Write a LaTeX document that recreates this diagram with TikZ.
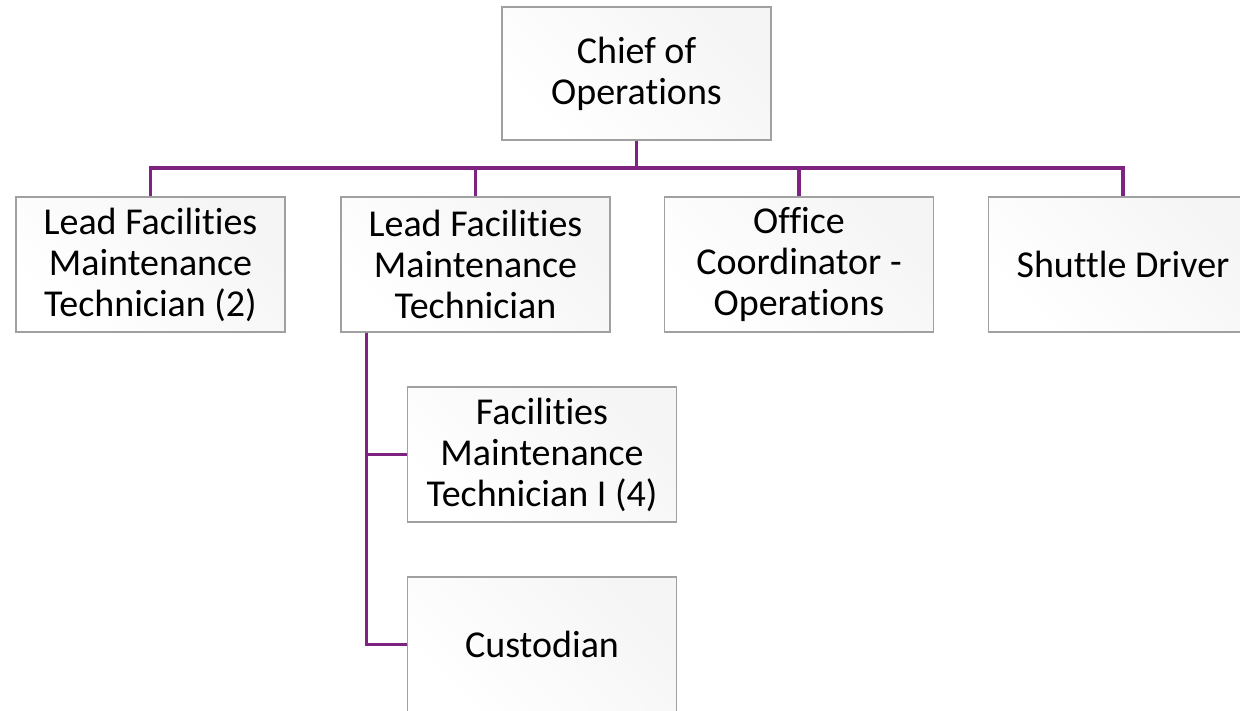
\documentclass[tikz,border=0pt]{standalone}
\usepackage{fontspec}
\setmainfont{Carlito}[Ligatures=NoCommon]
\definecolor{linkpurple}{RGB}{126,35,128}
\definecolor{boxborder}{RGB}{160,160,160}
\tikzset{
  orgbox/.style={draw=boxborder, line width=1.3pt, rectangle,
    left color=white, right color=black!4, shading angle=135,
    minimum width=269pt, minimum height=135pt, inner sep=2pt,
    align=center, font=\fontsize{38}{41}\selectfont, text=black},
  link/.style={draw=linkpurple, line width=3.3pt}
}
\begin{document}
\begin{tikzpicture}[x=1pt,y=-1pt]
\useasboundingbox (0,0) rectangle (1240,710);
\node[orgbox, minimum height=133pt] (chief) at (636.5,73.5) {Chief of\\Operations};
\node[orgbox] (b1) at (150.5,264.5) {Lead Facilities\\Maintenance\\Technician (2)};
\node[orgbox] (b2) at (475.5,264.5) {Lead Facilities\\Maintenance\\Technician};
\node[orgbox] (b3) at (799,264.5) {Office\\Coordinator -\\Operations};
\node[orgbox] (b4) at (1123,264.5) {Shuttle Driver};
\node[orgbox] (fac) at (542,454.5) {Facilities\\Maintenance\\Technician I (4)};
\node[orgbox] (cust) at (542,644.5) {Custodian};
\coordinate (bus) at (636.5,168);
\coordinate (t0) at ([xshift=26pt]b2.south west);
\draw[link] (chief.south) -- (bus);
\draw[link] (b1.north) -- (b1.north |- bus) -- (b4.north |- bus) -- (b4.north);
\draw[link] (b2.north) -- (b2.north |- bus);
\draw[link] (b3.north) -- (b3.north |- bus);
\draw[link] (t0) |- (fac.west);
\draw[link] (t0) |- (cust.west);
\end{tikzpicture}
\end{document}
